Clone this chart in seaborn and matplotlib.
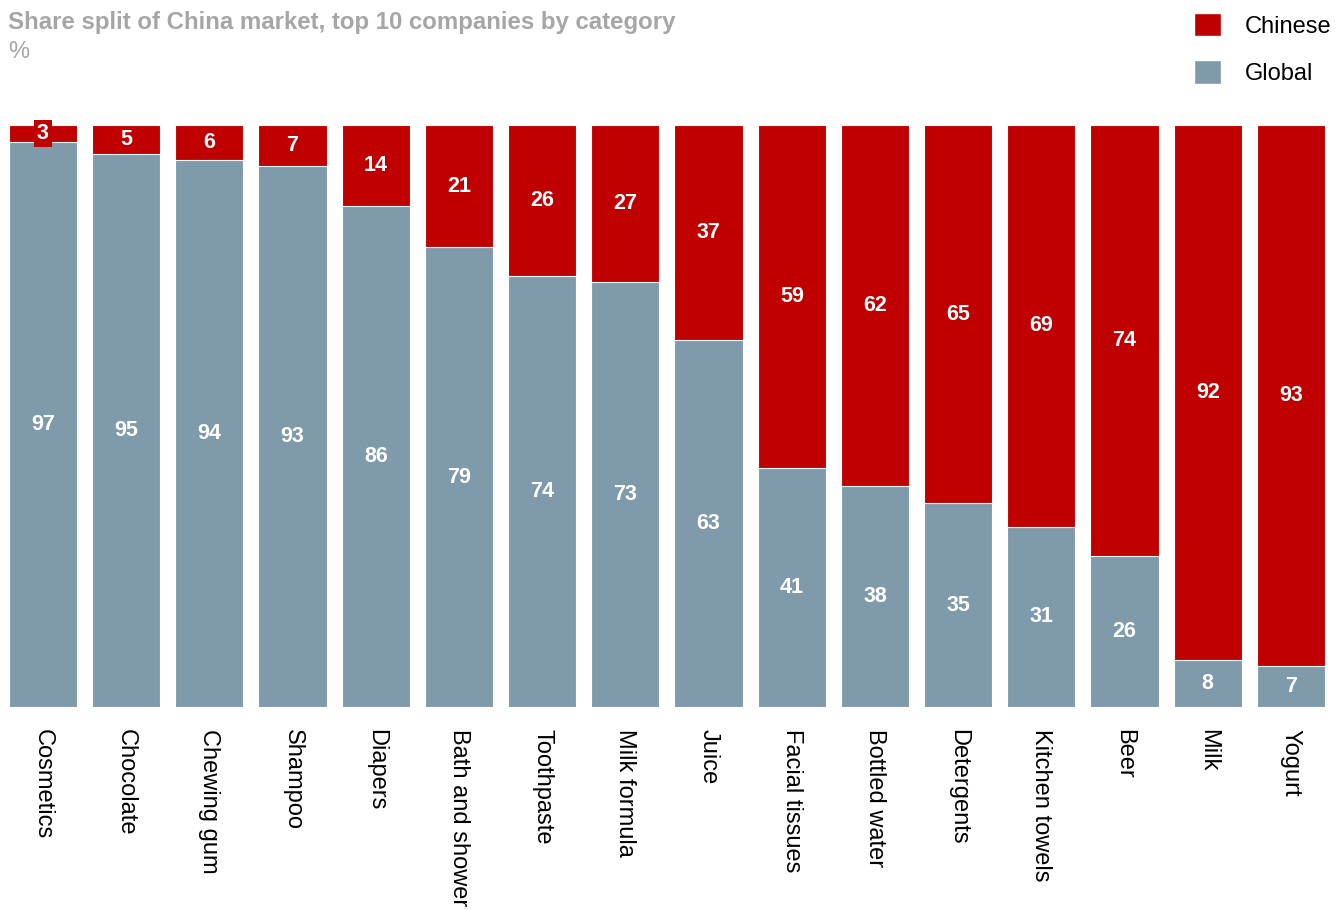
import pandas as pd
import matplotlib.pyplot as plt
import seaborn as sns
from matplotlib.patches import Patch

categories = ['Cosmetics', 'Chocolate', 'Chewing gum', 'Shampoo', 'Diapers', 'Bath and shower',
              'Toothpaste', 'Milk formula', 'Juice', 'Facial tissues', 'Bottled water',
              'Detergents', 'Kitchen towels', 'Beer', 'Milk', 'Yogurt']
chinese = [3, 5, 6, 7, 14, 21, 26, 27, 37, 59, 62, 65, 69, 74, 92, 93]
global_ = [97, 95, 94, 93, 86, 79, 74, 73, 63, 41, 38, 35, 31, 26, 8, 7]

red = '#C00000'
blue = '#7F9BAB'

df = pd.DataFrame({'category': categories, 'chinese': chinese, 'global': global_})
df['total'] = df['chinese'] + df['global']

sns.set_style('white')
plt.rcParams['font.family'] = ['Liberation Sans', 'DejaVu Sans']
plt.rcParams['text.color'] = 'black'

fig = plt.figure(figsize=(13.44, 9.10), dpi=100)
ax = fig.add_axes([0.001, 0.2231, 0.9905, 0.6396])

# red for the whole bar, global drawn over it
sns.barplot(data=df, x='category', y='total', color=red, width=0.82,
            edgecolor='white', linewidth=0.8, saturation=1, ax=ax)
sns.barplot(data=df, x='category', y='global', color=blue, width=0.82,
            edgecolor='white', linewidth=0.8, saturation=1, ax=ax)

for i, row in df.iterrows():
    ax.text(i, row['global'] / 2, str(row['global']), ha='center', va='center',
            color='white', fontsize=15.5, fontweight='bold')
    y_cn = row['global'] + row['chinese'] / 2
    if row['chinese'] < 5:
        ax.text(i, y_cn, str(row['chinese']), ha='center', va='center', color='white',
                fontsize=15.5, fontweight='bold',
                bbox=dict(boxstyle='square,pad=0.15', fc=red, ec='none'))
    else:
        ax.text(i, y_cn, str(row['chinese']), ha='center', va='center',
                color='white', fontsize=15.5, fontweight='bold')

ax.set_xlim(-0.5, len(categories) - 0.5)
ax.set_ylim(0, 100)
ax.set_xlabel('')
ax.set_ylabel('')
ax.set_yticks([])
ax.tick_params(axis='x', length=0, pad=16, labelsize=17, labelcolor='black')
plt.setp(ax.get_xticklabels(), rotation=270, ha='center', va='top', rotation_mode='default')
sns.despine(ax=ax, left=True, bottom=True)

fig.text(0.006, 0.975, 'Share split of China market, top 10 companies by category',
         color='#A6A6A6', fontsize=17.3, fontweight='bold', ha='left', va='center')
fig.text(0.006, 0.943, '%', color='#A6A6A6', fontsize=17, ha='left', va='center')

handles = [Patch(facecolor=red, edgecolor='white'), Patch(facecolor=blue, edgecolor='white')]
fig.legend(handles, ['Chinese', 'Global'], loc='upper right', bbox_to_anchor=(1.0, 1.0),
           frameon=False, fontsize=17, handlelength=1.15, handleheight=1.15,
           labelspacing=0.95, handletextpad=1.0, borderaxespad=0.15, labelcolor='black')

fig.savefig('out.png', dpi=100)
